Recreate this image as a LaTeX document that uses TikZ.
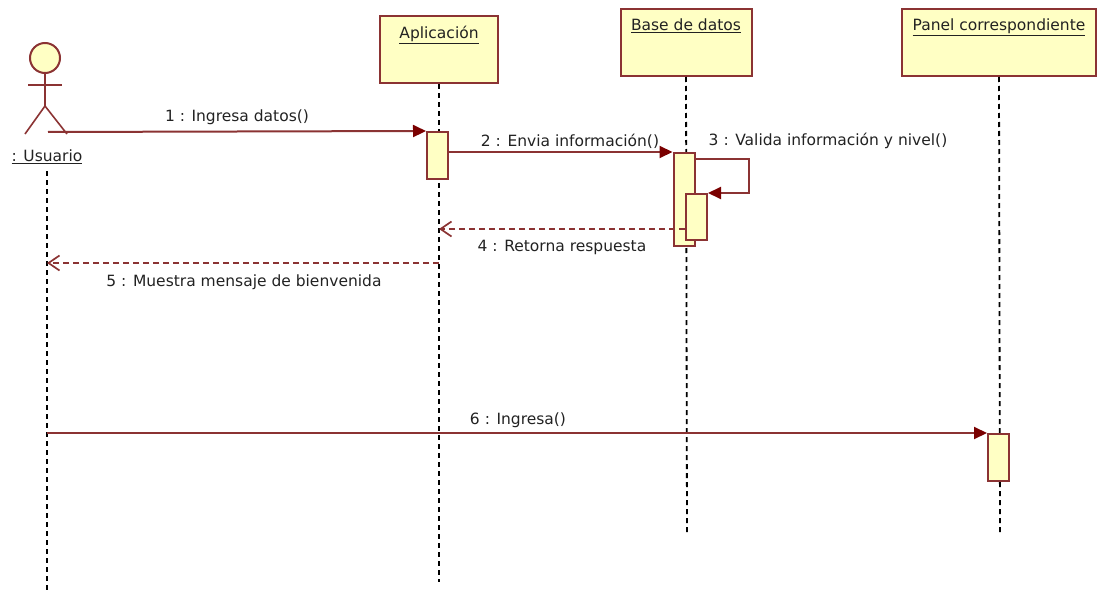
\documentclass[tikz,border=0pt]{standalone}
\usepackage{fontspec}
\setmainfont{DejaVu Sans}
\usetikzlibrary{arrows.meta}
\definecolor{umlred}{HTML}{8B3333}
\definecolor{umltip}{HTML}{7A0000}
\definecolor{umlfill}{HTML}{FFFFC4}
\definecolor{umltext}{HTML}{222222}

\begin{document}
\begin{tikzpicture}[x=1pt,y=-1pt,font=\fontsize{15.5}{18}\selectfont,text=umltext]

        \useasboundingbox (0,0) rectangle (1098,594);

        % objects
        \begin{scope}[every node/.style={rectangle,draw=umlred,fill=umlfill,line width=2pt}]
          \node[minimum width=118pt,minimum height=67pt] (app)   at (439,49.5) {};
          \node[minimum width=131pt,minimum height=67pt] (db)    at (686,42.5) {};
          \node[minimum width=194pt,minimum height=67pt] (panel) at (999,42.5) {};
        \end{scope}

        \begin{scope}[every node/.style={anchor=north,inner sep=0pt}]
          \node (appname)   at ([yshift=-11pt]app.north)   {\underline{Aplicación}};
          \node (dbname)    at ([yshift=-11pt]db.north)    {\underline{Base de datos}};
          \node (panelname) at ([yshift=-11pt]panel.north) {\underline{Panel correspondiente}};
        \end{scope}

        % actor
        \node[circle,draw=umlred,fill=umlfill,line width=2pt,minimum size=30pt,inner sep=0pt] (head) at (45,58) {};
        \begin{scope}[umlred,line width=1.6pt]
          \draw (head.south) -- (45,106) coordinate (hip);
          \draw (28,85) -- (62,85);
          \draw (25,134) -- (hip) -- (67,134);
        \end{scope}
        \node[inner sep=1pt] (user) at (47,157) {\underline{: Usuario}};

        \coordinate (userend)  at (47,590);
        \coordinate (append)   at (439,582);
        \coordinate (dbend)    at (687,535);
        \coordinate (panelend) at (1000,535);

        % lifelines
        \begin{scope}[every edge/.style={draw,black,line width=1.8pt,dash pattern=on 5pt off 4pt}]
          \path ([yshift=-6pt]user.south) edge (userend);
          \path (app.south)   edge (append);
          \path (db.south)    edge (dbend);
          \path (panel.south) edge (panelend);
        \end{scope}

        % activations
        \begin{scope}[every node/.style={rectangle,draw=umlred,fill=umlfill,line width=2pt,minimum width=21pt,inner sep=0pt}]
          \node[minimum height=47pt] (actapp)   at (437.5,155.5) {};
          \node[minimum height=93pt] (actdb1)   at (684,199.5)   {};
          \node[minimum height=46pt] (actdb2)   at (696.5,217)   {};
          \node[minimum height=47pt] (actpanel) at (998.5,457.5) {};
        \end{scope}

        \coordinate (m1s) at (48,132);
        \coordinate (m3s) at ([yshift=-7pt]actdb1.north east);
        \coordinate (r4s) at ([yshift=-12pt]actdb2.west);
        \coordinate (r4e) at (app.center |- r4s);
        \coordinate (r5s) at (439,263);
        \coordinate (r5e) at (userend |- r5s);

        % messages
        \begin{scope}[every edge/.style={draw,umlred,line width=2pt,-{Triangle[length=13pt,width=12pt,fill=umltip,color=umltip]}}]
          \path (m1s) edge (actapp.north west);
          \path (actapp.east |- actdb1.north) edge (actdb1.north west);
          \path (userend |- actpanel.north) edge (actpanel.north west);
        \end{scope}
        \draw[umlred,line width=2pt,-{Triangle[length=13pt,width=12pt,fill=umltip,color=umltip]}]
          (m3s) -- ++(53,0) |- (actdb2.north east);

        \begin{scope}[every edge/.style={draw,umlred,line width=1.7pt,dash pattern=on 6pt off 4pt,-{Straight Barb[length=11pt,width=15pt]}}]
          \path (r4s) edge (r4e);
          \path (r5s) edge (r5e);
        \end{scope}

        % message labels
        \begin{scope}[every node/.style={inner sep=0pt}]
          \node (l1) at (237,117) {1 : Ingresa datos()};
          \node (l2) at (570,141) {2 : Envia información()};
          \node (l3) at (828,141) {3 : Valida información y nivel()};
          \node (l4) at (562,247) {4 : Retorna respuesta};
          \node (l5) at (244,282) {5 : Muestra mensaje de bienvenida};
          \node (l6) at (518,420) {6 : Ingresa()};
        \end{scope}

      \end{tikzpicture}
\end{document}
